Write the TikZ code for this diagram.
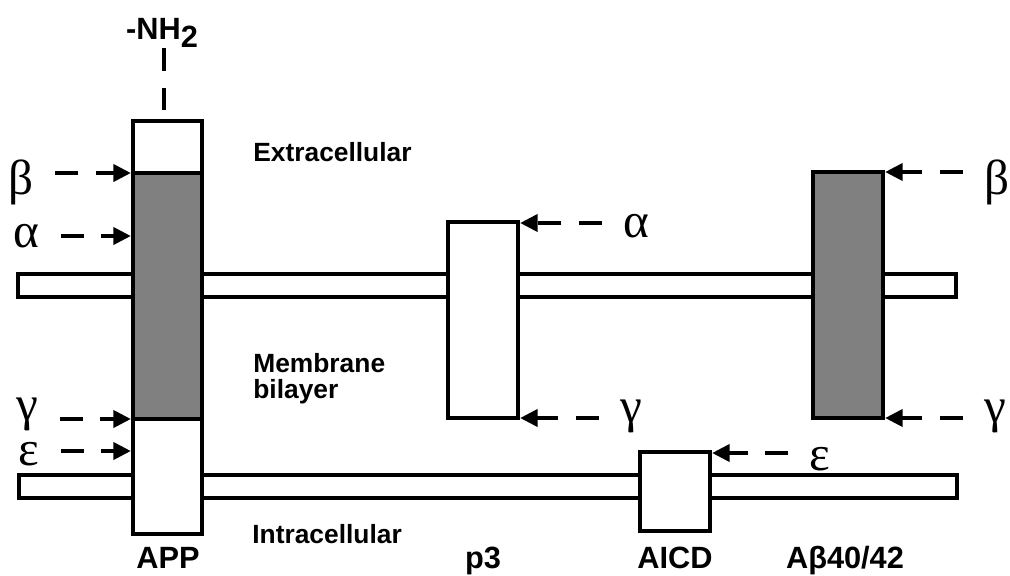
\documentclass[tikz,border=0pt]{standalone}
\usepackage{fontspec}
\setmainfont{Liberation Sans}
\newfontfamily\greekfont{Liberation Serif}
\usetikzlibrary{arrows.meta}

\begin{document}
\begin{tikzpicture}[x=0.02cm, y=-0.02cm,
	wall/.style={line width=2.5pt, fill=white},
	cut/.style={line width=2.8pt, dash pattern=on 13pt off 10pt, shorten <=12pt, -{Triangle[length=10pt,width=9.5pt]}},
	greek/.style={inner sep=0pt, font=\greekfont\fontsize{28}{30}\selectfont},
	region/.style={inner sep=0pt, anchor=base west, font=\bfseries\fontsize{15}{16}\selectfont},
	fragment/.style={inner sep=0pt, anchor=base, font=\bfseries\fontsize{17.5}{18}\selectfont}]
	\useasboundingbox (0,0) rectangle (1010,575);
	% membrane bilayer
	\draw[wall] (18,274) rectangle (956,297);
	\draw[wall] (19,475) rectangle (957,498);
	% APP and its fragments
	\draw[wall] (133,121) rectangle (202,534);
	\draw[wall, fill=gray] (133,173) rectangle (202,419);
	\draw[wall] (448,222) rectangle (518,418);
	\draw[wall] (640,452) rectangle (710,531);
	\draw[wall, fill=gray] (813,172) rectangle (883,418);
	% N terminus
	\node[inner sep=0pt, anchor=south, font=\bfseries\fontsize{17.5}{18}\selectfont] (nh) at (162,48) {-NH\raisebox{-4.5pt}{2}};
	\coordinate (nhEnd) at (164,110);
	\draw[line width=2.8pt, dash pattern=on 13pt off 9.5pt] (nhEnd |- nh.south) -- (nhEnd);
	% cut sites
	\coordinate (appBeta) at (131,173);
	\coordinate (appAlpha) at (131,236);
	\coordinate (appGamma) at (131,419);
	\coordinate (appEps) at (131,451);
	\coordinate (pAlpha) at (520,223);
	\coordinate (pGamma) at (520,418);
	\coordinate (aicdEps) at (712,453);
	\coordinate (abBeta) at (885,172);
	\coordinate (abGamma) at (885,418);
	\node[greek] (lbeta) at (21.5,182.5) {β};
	\node[greek] (lalpha) at (26.5,236) {α};
	\node[greek] (lgamma) at (27.5,414) {γ};
	\node[greek] (leps) at (29,454) {ε};
	\node[greek] (palpha) at (636,226) {α};
	\node[greek] (pgamma) at (631,416) {γ};
	\node[greek] (aeps) at (820,459.5) {ε};
	\node[greek] (rbeta) at (996.5,182) {β};
	\node[greek] (rgamma) at (995,416.5) {γ};
	\draw[cut] (lbeta.east |- appBeta) -- (appBeta);
	\draw[cut] (lalpha.east |- appAlpha) -- (appAlpha);
	\draw[cut] (lgamma.east |- appGamma) -- (appGamma);
	\draw[cut] (leps.east |- appEps) -- (appEps);
	\draw[cut] (palpha.west |- pAlpha) -- (pAlpha);
	\draw[cut] (pgamma.west |- pGamma) -- (pGamma);
	\draw[cut] (aeps.west |- aicdEps) -- (aicdEps);
	\draw[cut] (rbeta.west |- abBeta) -- (abBeta);
	\draw[cut] (rgamma.west |- abGamma) -- (abGamma);
	% labels
	\node[region] (extra) at (253,161) {Extracellular};
	\node[region] (membrane) at (253,372) {Membrane};
	\node[region] (bilayer) at (253,398) {bilayer};
	\node[region] (intra) at (252,543) {Intracellular};
	\node[fragment] (app) at (168,568) {APP};
	\node[fragment] (p3) at (483,568) {p3};
	\node[fragment] (aicd) at (675,568) {AICD};
	\node[fragment] (abeta) at (845,568) {Aβ40/42};
\end{tikzpicture}
\end{document}
